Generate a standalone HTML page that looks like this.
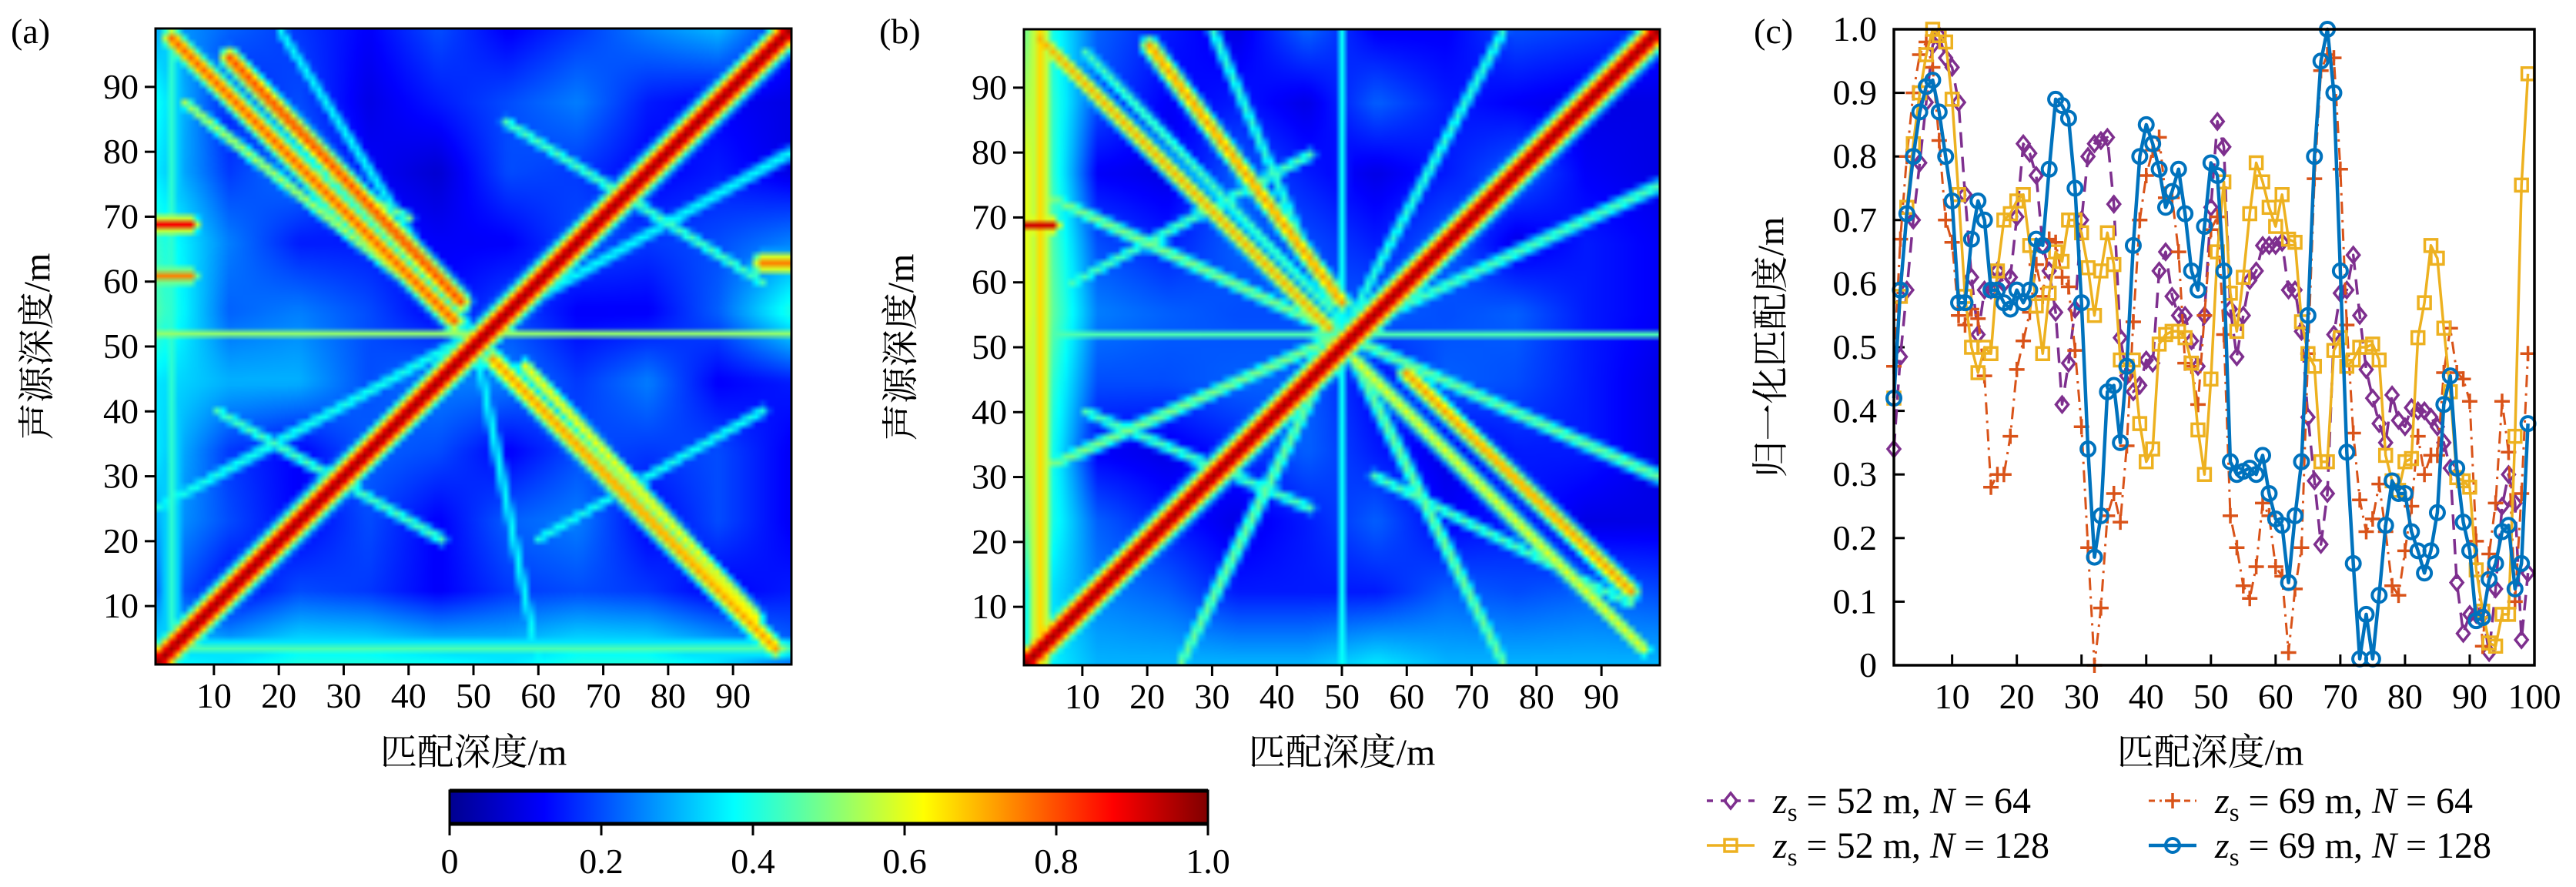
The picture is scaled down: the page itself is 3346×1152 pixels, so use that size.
<!DOCTYPE html>
<html><head><meta charset="utf-8">
<style>
html,body{margin:0;padding:0;background:#fff;}
#root{position:relative;width:3346px;height:1152px;overflow:hidden;background:#fff;}
canvas{position:absolute;}
svg{position:absolute;left:0;top:0;}
text{font-family:"Liberation Serif","Noto Serif CJK SC",serif;fill:#000;}
</style></head>
<body>
<div id="root">
<canvas id="hmA" width="826" height="826" style="left:202px;top:37px;width:826px;height:826px"></canvas>
<canvas id="hmB" width="826" height="826" style="left:1330px;top:38px;width:826px;height:826px"></canvas>
<svg id="svg" width="3346" height="1152" xmlns="http://www.w3.org/2000/svg">
<defs>
<linearGradient id="jet" x1="0" x2="1" y1="0" y2="0">
<stop offset="0" stop-color="#00008f"/><stop offset="0.125" stop-color="#0000ff"/>
<stop offset="0.375" stop-color="#00ffff"/><stop offset="0.625" stop-color="#ffff00"/>
<stop offset="0.875" stop-color="#ff0000"/><stop offset="1" stop-color="#800000"/>
</linearGradient>
</defs>
</svg>
</div>
<script>
// ---------- line chart data (panel c) ----------
const depthIdx = Array.from({length:99},(_,i)=>i+1);
const yTicksC = [0,0.1,0.2,0.3,0.4,0.5,0.6,0.7,0.8,0.9,1.0];
const yTickLabelsC = ["0","0.1","0.2","0.3","0.4","0.5","0.6","0.7","0.8","0.9","1.0"];
const xTicksC = [10,20,30,40,50,60,70,80,90,100];
const purple64 = [0.34,0.485,0.59,0.70,0.79,0.885,0.975,0.99,0.955,0.94,
0.885,0.74,0.61,0.52,0.59,0.59,0.62,0.60,0.61,0.705,
0.82,0.805,0.77,0.66,0.62,0.555,0.41,0.475,0.56,0.70,
0.80,0.82,0.825,0.83,0.725,0.515,0.455,0.43,0.44,0.48,
0.475,0.62,0.65,0.58,0.55,0.55,0.51,0.47,0.55,0.72,
0.855,0.815,0.56,0.485,0.55,0.605,0.62,0.66,0.66,0.66,
0.665,0.59,0.59,0.525,0.39,0.29,0.19,0.27,0.52,0.585,
0.59,0.645,0.55,0.465,0.42,0.38,0.35,0.425,0.385,0.375,
0.405,0.40,0.40,0.39,0.375,0.35,0.31,0.13,0.05,0.08,
0.08,0.08,0.02,0.12,0.25,0.30,0.255,0.04,0.145];
const yellow128 = [0.42,0.58,0.72,0.82,0.90,0.96,1.0,0.99,0.98,0.89,
0.74,0.58,0.50,0.46,0.50,0.49,0.62,0.70,0.71,0.73,
0.74,0.66,0.565,0.49,0.585,0.65,0.635,0.70,0.70,0.68,
0.625,0.55,0.62,0.68,0.63,0.48,0.47,0.48,0.38,0.32,
0.34,0.505,0.52,0.525,0.525,0.515,0.475,0.37,0.30,0.45,
0.65,0.76,0.585,0.525,0.61,0.71,0.79,0.76,0.72,0.69,
0.74,0.67,0.665,0.54,0.49,0.47,0.32,0.32,0.495,0.515,
0.47,0.48,0.50,0.50,0.505,0.48,0.33,0.29,0.275,0.32,
0.325,0.515,0.57,0.66,0.64,0.53,0.43,0.295,0.29,0.28,
0.15,0.085,0.035,0.03,0.08,0.08,0.36,0.755,0.93];
const orange64 = [0.47,0.67,0.80,0.90,0.96,0.98,0.94,0.825,0.70,0.665,
0.55,0.535,0.56,0.545,0.455,0.28,0.30,0.30,0.36,0.465,
0.51,0.555,0.63,0.58,0.67,0.665,0.61,0.595,0.495,0.375,
0.185,0.0,0.09,0.235,0.27,0.225,0.345,0.54,0.70,0.77,
0.81,0.83,0.735,0.735,0.65,0.475,0.47,0.41,0.55,0.685,
0.705,0.52,0.235,0.185,0.125,0.105,0.155,0.255,0.235,0.155,
0.14,0.02,0.12,0.185,0.49,0.765,0.935,0.96,0.955,0.78,
0.535,0.365,0.26,0.21,0.23,0.285,0.21,0.125,0.11,0.18,
0.25,0.36,0.30,0.33,0.33,0.46,0.53,0.46,0.45,0.415,
0.195,0.03,0.175,0.255,0.415,0.335,0.10,0.27,0.49];
const blue128 = [0.42,0.59,0.71,0.80,0.87,0.91,0.92,0.87,0.80,0.73,
0.57,0.57,0.67,0.73,0.70,0.59,0.59,0.57,0.56,0.59,
0.57,0.59,0.67,0.66,0.78,0.89,0.88,0.86,0.75,0.57,
0.34,0.17,0.235,0.43,0.44,0.35,0.47,0.66,0.80,0.85,
0.82,0.78,0.72,0.745,0.78,0.71,0.62,0.59,0.69,0.79,
0.77,0.62,0.32,0.30,0.305,0.31,0.30,0.33,0.27,0.23,
0.22,0.13,0.235,0.32,0.55,0.80,0.95,1.0,0.90,0.62,
0.335,0.16,0.01,0.08,0.01,0.11,0.22,0.29,0.27,0.27,
0.21,0.18,0.145,0.18,0.24,0.41,0.455,0.31,0.225,0.18,
0.07,0.075,0.135,0.16,0.21,0.22,0.12,0.16,0.38];
const legendLabels = ["52","69","52","69"];
const legendN = ["64","64","128","128"];

// ---------- heatmap data ----------
const hmTicks = [10,20,30,40,50,60,70,80,90];
const cbTicks = [0,0.2,0.4,0.6,0.8,1.0];
const cbTickLabels = ["0","0.2","0.4","0.6","0.8","1.0"];
const baseA = [
[0.30,0.22,0.18,0.12,0.20,0.12,0.18,0.25,0.30,0.15],
[0.38,0.15,0.20,0.10,0.15,0.20,0.25,0.15,0.12,0.10],
[0.35,0.18,0.25,0.12,0.08,0.20,0.18,0.12,0.15,0.10],
[0.42,0.25,0.15,0.15,0.12,0.12,0.20,0.18,0.20,0.25],
[0.45,0.22,0.25,0.20,0.12,0.20,0.12,0.12,0.22,0.40],
[0.35,0.30,0.30,0.20,0.25,0.25,0.18,0.25,0.12,0.15],
[0.35,0.18,0.12,0.22,0.20,0.12,0.20,0.18,0.20,0.12],
[0.30,0.20,0.12,0.20,0.12,0.22,0.25,0.12,0.20,0.12],
[0.25,0.12,0.20,0.18,0.12,0.18,0.20,0.18,0.12,0.15],
[0.38,0.35,0.40,0.40,0.38,0.35,0.40,0.40,0.35,0.25]];
const baseB = [
[0.50,0.22,0.15,0.10,0.22,0.12,0.12,0.20,0.18,0.15],
[0.55,0.20,0.12,0.15,0.10,0.22,0.15,0.12,0.10,0.10],
[0.60,0.12,0.10,0.22,0.15,0.10,0.15,0.22,0.12,0.10],
[0.60,0.20,0.15,0.22,0.20,0.15,0.22,0.10,0.15,0.12],
[0.60,0.25,0.22,0.20,0.20,0.22,0.20,0.22,0.15,0.12],
[0.55,0.20,0.20,0.22,0.22,0.12,0.22,0.20,0.15,0.10],
[0.55,0.12,0.10,0.15,0.22,0.15,0.10,0.15,0.15,0.10],
[0.50,0.22,0.15,0.10,0.15,0.22,0.12,0.15,0.10,0.10],
[0.40,0.25,0.22,0.15,0.15,0.15,0.22,0.20,0.22,0.20],
[0.40,0.30,0.30,0.30,0.30,0.35,0.30,0.30,0.30,0.30]];
// [x1,y1,x2,y2,value,width] in data units
const bandsA = [
[1,1,99,99,0.97,2.3],[3,98,47,54,0.78,1.8],[12,95,48,57,0.80,1.8],[7,96,47,56,0.42,1.0],
[53,48,97,3,0.72,1.8],[58,47,94,8,0.62,1.4],[1,52,99,52,0.52,0.6],[1,69,6,69,0.88,1.5],
[95,63,99,63,0.75,2.0],[1,61,6,61,0.75,1.5],[3,1,3,99,0.42,2.0],
[1,25,50,52,0.40,1.4],[50,52,99,80,0.38,1.4],[20,99,50,52,0.38,1.2],[60,1,50,52,0.38,1.2],[1,3,99,3,0.45,2.0],
[5,88,40,60,0.55,1.2],[55,85,95,60,0.45,1.2],[10,40,45,20,0.45,1.2],[60,20,95,40,0.40,1.2],[20,80,40,70,0.50,1.0]];
const bandsB = [
[1,1,99,99,0.97,2.3],[3,98,48,53,0.70,1.5],[10,96,48,56,0.45,1.2],[20,97,50,57,0.72,1.6],
[52,48,97,3,0.60,1.5],[60,46,95,12,0.72,1.6],[1,52,99,52,0.45,0.6],[1,69,5,69,0.92,1.5],
[3,1,3,99,0.66,2.5],
[50,52,1,75,0.50,1.4],[50,52,1,30,0.50,1.4],[50,52,25,1,0.48,1.4],[50,52,75,1,0.48,1.4],
[50,52,99,30,0.48,1.4],[50,52,99,75,0.45,1.4],[50,52,30,99,0.42,1.2],[50,52,75,99,0.42,1.2],[50,1,50,99,0.38,1.0],
[8,60,45,80,0.45,1.2],[55,30,95,10,0.45,1.2],[10,40,45,25,0.45,1.2]];

function jet(v){
  const c=x=>Math.max(0,Math.min(1,x));
  return [c(1.5-Math.abs(4*v-3))*255,c(1.5-Math.abs(4*v-2))*255,c(1.5-Math.abs(4*v-1))*255];
}
function segDist(px,py,b){
  const [x1,y1,x2,y2]=b;const dx=x2-x1,dy=y2-y1;const L=dx*dx+dy*dy;
  let t=L?((px-x1)*dx+(py-y1)*dy)/L:0;t=Math.max(0,Math.min(1,t));
  const qx=x1+t*dx-px,qy=y1+t*dy-py;return Math.sqrt(qx*qx+qy*qy);
}
function drawHeat(id,base,bands){
  const N=99;const off=document.createElement('canvas');off.width=N;off.height=N;
  const octx=off.getContext('2d');const img=octx.createImageData(N,N);
  for(let r=0;r<N;r++){for(let col=0;col<N;col++){
    const xd=col+1, yd=N-r;
    const gx=(col/(N-1))*9, gy=(r/(N-1))*9;
    const i0=Math.floor(gx),j0=Math.floor(gy),i1=Math.min(9,i0+1),j1=Math.min(9,j0+1);
    const fx=gx-i0,fy=gy-j0;
    let v=base[j0][i0]*(1-fx)*(1-fy)+base[j0][i1]*fx*(1-fy)+base[j1][i0]*(1-fx)*fy+base[j1][i1]*fx*fy;
    for(const b of bands){const d=segDist(xd,yd,b);const bv=b[4]*Math.exp(-(d/b[5])*(d/b[5]));if(bv>v)v=bv;}
    const [R,G,B]=jet(v);const k=(r*N+col)*4;
    img.data[k]=R;img.data[k+1]=G;img.data[k+2]=B;img.data[k+3]=255;
  }}
  octx.putImageData(img,0,0);
  const cv=document.getElementById(id);const ctx=cv.getContext('2d');
  ctx.imageSmoothingEnabled=true;ctx.drawImage(off,0,0,826,826);
}
drawHeat('hmA',baseA,bandsA);
drawHeat('hmB',baseB,bandsB);

const NS="http://www.w3.org/2000/svg";
const svg=document.getElementById('svg');
function mk(tag,attrs,parent){const e=document.createElementNS(NS,tag);for(const k in attrs)e.setAttribute(k,attrs[k]);(parent||svg).appendChild(e);return e;}

function heatAxes(x0,y0,size,label,labelX,ytitleX,name){
  const g=mk('g',{});
  
  
  const sx=v=>x0+(v-1)/98*size, sy=v=>y0+size-(v-1)/98*size;
  const fr=mk('rect',{x:x0,y:y0,width:size,height:size,fill:'none',stroke:'#000','stroke-width':3},g);
  
  
  for(const t of hmTicks){
    mk('line',{x1:sx(t),x2:sx(t),y1:y0+size,y2:y0+size+14,stroke:'#000','stroke-width':3},g);
    const tx=mk('text',{x:sx(t),y:y0+size+56,'font-size':46,'text-anchor':'middle'},g);tx.textContent=t;
    
    
    mk('line',{x1:x0-14,x2:x0,y1:sy(t),y2:sy(t),stroke:'#000','stroke-width':3},g);
    const ty=mk('text',{x:x0-22,y:sy(t)+15,'font-size':46,'text-anchor':'end'},g);ty.textContent=t;
    
    
  }
  const xt=mk('text',{x:x0+size/2,y:993,'font-size':48,'text-anchor':'middle'},g);xt.textContent='匹配深度/m';
  
  
  const yt=mk('text',{x:0,y:0,'font-size':48,'text-anchor':'middle',transform:`translate(${ytitleX},${y0+size/2}) rotate(-90)`},g);yt.textContent='声源深度/m';
  
  
  const pl=mk('text',{x:labelX,y:56,'font-size':46},g);pl.textContent=label;
  
  
}
heatAxes(202,37,826,'(a)',14,64,'panel-a');
heatAxes(1330,38,826,'(b)',1142,1186,'panel-b');

{
  const x0=584,x1=1569,y0=1027,y1=1070;
  const g=mk('g',{});
  
  
  mk('rect',{x:x0,y:y0,width:x1-x0,height:y1-y0,fill:'url(#jet)',stroke:'#000','stroke-width':3},g);
  mk('line',{x1:x0,x2:x1,y1:y0,y2:y0,stroke:'#000','stroke-width':5},g);
  mk('line',{x1:x0,x2:x1,y1:y1,y2:y1,stroke:'#000','stroke-width':5},g);
  cbTicks.forEach((t,i)=>{
    const x=x0+t*(x1-x0);
    mk('line',{x1:x,x2:x,y1:y1,y2:y1+15,stroke:'#000','stroke-width':3},g);
    const tx=mk('text',{x:x,y:1134,'font-size':46,'text-anchor':'middle'},g);tx.textContent=cbTickLabels[i];
    
    
  });
}

const cx0=2460,cx1=3292,cy0=38,cy1=864;
const sxC=v=>cx0+(v-1)/99*(cx1-cx0);
const syC=v=>cy1-v*(cy1-cy0);
{
  const g=mk('g',{});
  
  
  yTicksC.forEach((t,i)=>{
    mk('line',{x1:cx0,x2:cx0+14,y1:syC(t),y2:syC(t),stroke:'#000','stroke-width':3},g);
    const ty=mk('text',{x:cx0-22,y:syC(t)+15,'font-size':46,'text-anchor':'end'},g);ty.textContent=yTickLabelsC[i];
    
    
  });
  xTicksC.forEach(t=>{
    mk('line',{x1:sxC(t),x2:sxC(t),y1:cy1,y2:cy1-14,stroke:'#000','stroke-width':3},g);
    const tx=mk('text',{x:sxC(t),y:cy1+56,'font-size':46,'text-anchor':'middle'},g);tx.textContent=t;
    
    
  });
  const xt=mk('text',{x:2871,y:993,'font-size':48,'text-anchor':'middle'},g);xt.textContent='匹配深度/m';
  
  
  const yt=mk('text',{x:0,y:0,'font-size':48,'text-anchor':'middle',transform:`translate(2316,451) rotate(-90)`},g);yt.textContent='归一化匹配度/m';
  
  
  const pl=mk('text',{x:2278,y:56,'font-size':46},g);pl.textContent='(c)';
  
  
}
function marker(type,x,y,color,g){
  let e;
  if(type==='diamond') e=mk('polygon',{points:`${x},${y-10} ${x+8},${y} ${x},${y+10} ${x-8},${y}`,fill:'none',stroke:color,'stroke-width':3.5},g);
  else if(type==='plus'){e=mk('path',{d:`M${x-10},${y}H${x+10}M${x},${y-10}V${y+10}`,stroke:color,'stroke-width':3.5,fill:'none'},g);}
  else if(type==='square') e=mk('rect',{x:x-8,y:y-8,width:16,height:16,fill:'none',stroke:color,'stroke-width':3.5},g);
  else e=mk('circle',{cx:x,cy:y,r:9,fill:'none',stroke:color,'stroke-width':4},g);
  return e;
}
const series=[
  {name:'series-zs52-n64',vals:purple64,color:'#7E2F8E',dash:'20,12',w:3.5,m:'diamond'},
  {name:'series-zs69-n64',vals:orange64,color:'#D95319',dash:'16,8,3,8',w:3,m:'plus'},
  {name:'series-zs52-n128',vals:yellow128,color:'#EDB120',dash:'',w:3.5,m:'square'},
  {name:'series-zs69-n128',vals:blue128,color:'#0072BD',dash:'',w:4.5,m:'circle'}];
series.forEach(s=>{
  const g=mk('g',{});
  
  
  const d=s.vals.map((v,i)=>(i?'L':'M')+sxC(depthIdx[i]).toFixed(1)+','+syC(v).toFixed(1)).join('');
  const p=mk('path',{d:d,fill:'none',stroke:s.color,'stroke-width':s.w,'stroke-dasharray':s.dash,'stroke-linejoin':'round'},g);
  
  
  s.vals.forEach((v,i)=>{
    const mEl=marker(s.m,sxC(depthIdx[i]),syC(v),s.color,g);
    
    
  });
});
{
  const fr=mk('rect',{x:cx0,y:cy0,width:cx1-cx0,height:cy1-cy0,fill:'none',stroke:'#000','stroke-width':3.5});
  
  
}
{
  const g=mk('g',{});
  
  
  const pos=[[2217,1040],[2791,1040],[2217,1098],[2791,1098]];
  [0,1,2,3].forEach((si,k)=>{
    const s=series[si];const [lx,ly]=pos[k];
    const eg=mk('g',{},g);
    
    
    mk('line',{x1:lx,x2:lx+62,y1:ly,y2:ly,stroke:s.color,'stroke-width':s.w,'stroke-dasharray':s.dash==='20,12'?'8,10':(s.dash?'8,6,3,6':'')},eg);
    marker(s.m,lx+31,ly,s.color,eg);
    const t=mk('text',{x:lx+86,y:ly+16,'font-size':48},eg);
    t.innerHTML=`<tspan font-style="italic">z</tspan><tspan font-size="33" dy="10">s</tspan><tspan dy="-10"> = ${legendLabels[k]} m, </tspan><tspan font-style="italic">N</tspan><tspan> = ${legendN[k]}</tspan>`;
  });
}
</script>
</body></html>
